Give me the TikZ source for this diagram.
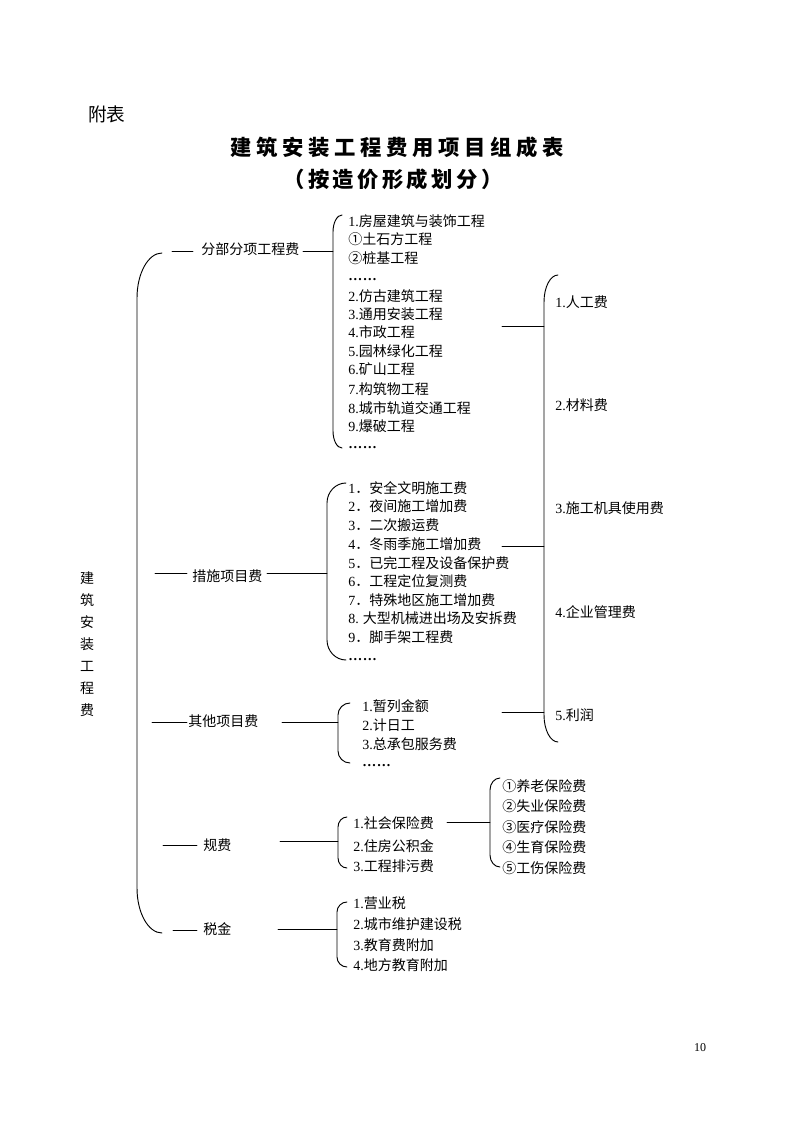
\documentclass[tikz,border=0pt]{standalone}
\usepackage{fontspec}
\setmainfont{Noto Sans CJK SC}
\newfontfamily\tnr{Liberation Serif}
\newcommand\nm[1]{{\tnr #1}}
\newcommand\gpa{\hspace{3.5pt}}
\newcommand\gpb{\hspace{2.5pt}}
\newcommand\dts{{\tnr\bfseries …\kern0.5pt…}}
% bracket: xv, xt, ytop, ybot, r
\newcommand\brk[5]{%
  \draw[ln] (#2,#3) .. controls ({#2-0.55*(#2-#1)},#3) and (#1,{#3+0.45*#5}) .. (#1,{#3+#5})
    -- (#1,{#4-#5}) .. controls (#1,{#4-0.45*#5}) and ({#2-0.55*(#2-#1)},#4) .. (#2,#4);}
\begin{document}
\begin{tikzpicture}[x=0.75pt,y=-0.75pt,
  txt/.style={anchor=west,inner sep=0pt,font=\fontsize{10.5pt}{12pt}\selectfont,text height=9.2pt,text depth=1.3pt},
  ln/.style={line width=0.7pt,line cap=round}]
\useasboundingbox (0,0) rectangle (794,1123);

% header
\node[anchor=west,inner sep=0pt,font=\fontsize{14pt}{16pt}\selectfont] (fb) at (88,114) {附表};
\node[inner sep=0pt,font=\fontsize{16pt}{18pt}\selectfont\bfseries] (t1) at (397,147)
  {建\gpa 筑\gpa 安\gpa 装\gpa 工\gpa 程\gpa 费\gpa 用\gpa 项\gpa 目\gpa 组\gpa 成\gpa 表};
\node[inner sep=0pt,font=\fontsize{16pt}{18pt}\selectfont\bfseries] (t2) at (393,179)
  {（\gpb 按\gpb 造\gpb 价\gpb 形\gpb 成\gpb 划\gpb 分\gpb ）};

% root (vertical)
\node[inner sep=0pt,align=center,font=\fontsize{10.5pt}{16.5pt}\selectfont] (root) at (87,644)
  {建\\筑\\安\\装\\工\\程\\费};
\brk{137}{162}{253}{933}{45}

% level 1
\node[txt] (fbfx) at (201,249) {分部分项工程费};
\node[txt] (csxm) at (192,576) {措施项目费};
\node[txt] (qtxm) at (188,721) {其他项目费};
\node[txt] (gf)   at (203,845) {规费};
\node[txt] (sj)   at (203,929) {税金};

\coordinate (a0) at (172,251); \coordinate (a1) at (193,251);
\coordinate (a2) at (303,251); \coordinate (a3) at (333,251);
\draw[ln] (a0) -- (a1); \draw[ln] (a2) -- (a3);
\coordinate (b0) at (155,573); \coordinate (b1) at (187,573);
\coordinate (b2) at (267,573); \coordinate (b3) at (327,573);
\draw[ln] (b0) -- (b1); \draw[ln] (b2) -- (b3);
\coordinate (c0) at (152,722); \coordinate (c1) at (187,722);
\coordinate (c2) at (282,722); \coordinate (c3) at (338,722);
\draw[ln] (c0) -- (c1); \draw[ln] (c2) -- (c3);
\coordinate (d0) at (163,845); \coordinate (d1) at (197,845);
\coordinate (d2) at (280,841); \coordinate (d3) at (338,841);
\draw[ln] (d0) -- (d1); \draw[ln] (d2) -- (d3);
\coordinate (e0) at (173,930); \coordinate (e1) at (197,930);
\coordinate (e2) at (278,929); \coordinate (e3) at (337,929);
\draw[ln] (e0) -- (e1); \draw[ln] (e2) -- (e3);

% list A
\brk{333}{342}{215}{448}{17}
\node[txt] (A1)  at (348,221) {\nm{1.}房屋建筑与装饰工程};
\node[txt] (A1a) at (348,239) {①土石方工程};
\node[txt] (A1b) at (348,258) {②桩基工程};
\node[txt] (A1c) at (348,275) {\dts};
\node[txt] (A2)  at (348,296) {\nm{2.}仿古建筑工程};
\node[txt] (A3)  at (348,314) {\nm{3.}通用安装工程};
\node[txt] (A4)  at (348,332) {\nm{4.}市政工程};
\node[txt] (A5)  at (348,351) {\nm{5.}园林绿化工程};
\node[txt] (A6)  at (348,369) {\nm{6.}矿山工程};
\node[txt] (A7)  at (348,389) {\nm{7.}构筑物工程};
\node[txt] (A8)  at (348,408) {\nm{8.}城市轨道交通工程};
\node[txt] (A9)  at (348,426) {\nm{9.}爆破工程};
\node[txt] (A10) at (348,443) {\dts};

% list B
\brk{327}{346}{483}{660}{20}
\node[txt] (B1) at (348,488) {\nm{1}．安全文明施工费};
\node[txt] (B2) at (348,506) {\nm{2}．夜间施工增加费};
\node[txt] (B3) at (348,525) {\nm{3}．二次搬运费};
\node[txt] (B4) at (348,544) {\nm{4}．冬雨季施工增加费};
\node[txt] (B5) at (348,563) {\nm{5}．已完工程及设备保护费};
\node[txt] (B6) at (348,581) {\nm{6}．工程定位复测费};
\node[txt] (B7) at (348,600) {\nm{7}．特殊地区施工增加费};
\node[txt] (B8) at (348,618) {\nm{8.}\kern3pt 大型机械进出场及安拆费};
\node[txt] (B9) at (348,637) {\nm{9}．脚手架工程费};
\node[txt] (B10) at (348,655) {\dts};

% list C
\brk{338}{350}{703}{763}{12}
\node[txt] (C1) at (362,706) {\nm{1.}暂列金额};
\node[txt] (C2) at (362,725) {\nm{2.}计日工};
\node[txt] (C3) at (362,744) {\nm{3.}总承包服务费};
\node[txt] (C4) at (362,761) {\dts};

% list D
\brk{338}{347}{817}{868}{10}
\node[txt] (D1) at (353,823) {\nm{1.}社会保险费};
\node[txt] (D2) at (353,846) {\nm{2.}住房公积金};
\node[txt] (D3) at (353,866) {\nm{3.}工程排污费};
\coordinate (f0) at (447,822); \coordinate (f1) at (490,822);
\draw[ln] (f0) -- (f1);

% list E
\brk{490}{500}{778}{867}{12}
\node[txt] (E1) at (502,786) {①养老保险费};
\node[txt] (E2) at (502,806) {②失业保险费};
\node[txt] (E3) at (502,827) {③医疗保险费};
\node[txt] (E4) at (502,847) {④生育保险费};
\node[txt] (E5) at (502,868) {⑤工伤保险费};

% list F
\brk{337}{347}{902}{967}{10}
\node[txt] (F1) at (353,903) {\nm{1.}营业税};
\node[txt] (F2) at (353,924) {\nm{2.}城市维护建设税};
\node[txt] (F3) at (353,945) {\nm{3.}教育费附加};
\node[txt] (F4) at (353,965) {\nm{4.}地方教育附加};

% right bracket
\coordinate (g0) at (502,326); \coordinate (g1) at (544,326);
\coordinate (h0) at (502,546); \coordinate (h1) at (544,546);
\coordinate (i0) at (502,712); \coordinate (i1) at (544,712);
\draw[ln] (g0) -- (g1); \draw[ln] (h0) -- (h1); \draw[ln] (i0) -- (i1);
\brk{544}{558}{275}{742}{27}
\node[txt] (R1) at (555,302) {\nm{1.}人工费};
\node[txt] (R2) at (555,405) {\nm{2.}材料费};
\node[txt] (R3) at (555,508) {\nm{3.}施工机具使用费};
\node[txt] (R4) at (555,612) {\nm{4.}企业管理费};
\node[txt] (R5) at (555,715) {\nm{5.}利润};

% page number
\node[inner sep=0pt,font=\tnr\fontsize{9pt}{10pt}\selectfont] (pg) at (700,1048) {10};
\end{tikzpicture}
\end{document}
